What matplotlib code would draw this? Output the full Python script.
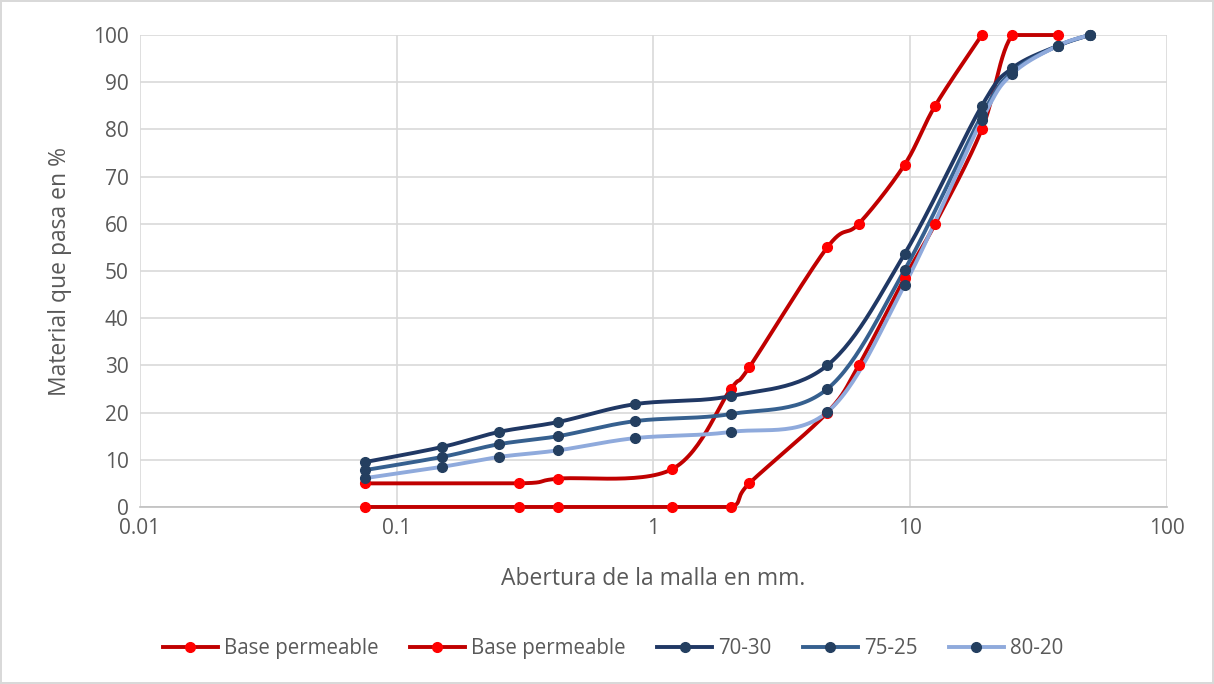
import numpy as np
import matplotlib.pyplot as plt
from matplotlib.lines import Line2D

plt.rcParams['font.family'] = ['Open Sans', 'DejaVu Sans']

# sieve openings (mm)
tamiz_base = [0.075, 0.3, 0.425, 1.18, 2.0, 2.36, 4.75, 6.3, 9.5, 12.5, 19.0]
tamiz_base2 = [0.075, 0.3, 0.425, 1.18, 2.0, 2.36, 4.75, 6.3, 9.5, 12.5, 19.0, 25.0, 37.5]
tamiz_mezcla = [0.075, 0.15, 0.25, 0.425, 0.85, 2.0, 4.75, 9.5, 19.0, 25.0, 37.5, 50.0]

# percent passing
base_sup = [5, 5, 6, 8, 25, 29.6, 55, 60, 72.5, 85, 100]
base_inf = [0, 0, 0, 0, 0, 5, 20, 30, 48.5, 60, 80, 100, 100]
mezcla_70_30 = [9.5, 12.7, 15.9, 18.0, 21.8, 23.5, 30.0, 53.6, 85.0, 93.0, 97.7, 100]
mezcla_75_25 = [7.8, 10.6, 13.3, 15.0, 18.2, 19.7, 25.0, 50.2, 83.0, 92.2, 97.7, 100]
mezcla_80_20 = [6.1, 8.5, 10.6, 12.0, 14.6, 15.9, 20.1, 47.0, 82.0, 91.8, 97.7, 100]

etiquetas = ['Base permeable', 'Base permeable', '70-30', '75-25', '80-20']


def suavizar(x, y, n=30):
    # bezier smoothing like spreadsheet "smoothed line", done in screen-like units
    u = np.log10(x) * 256.7
    v = np.array(y, dtype=float) * 4.72
    pts = np.column_stack([u, v])
    out = [pts[0]]
    for i in range(len(pts) - 1):
        p0 = pts[i - 1] if i > 0 else pts[i]
        p1 = pts[i]
        p2 = pts[i + 1]
        p3 = pts[i + 2] if i + 2 < len(pts) else pts[i + 1]
        c1 = p1 + (p2 - p0) / 6
        c2 = p2 - (p3 - p1) / 6
        # flat stretches stay flat
        if p1[1] == p2[1]:
            c1[1] = c2[1] = p1[1]
        t = np.linspace(0, 1, n)[1:, None]
        seg = ((1 - t) ** 3) * p1 + 3 * ((1 - t) ** 2) * t * c1 + 3 * (1 - t) * t ** 2 * c2 + t ** 3 * p2
        out.extend(seg)
    out = np.array(out)
    return 10 ** (out[:, 0] / 256.7), np.minimum(out[:, 1] / 4.72, 100)


fig = plt.figure(figsize=(12.14, 6.84), dpi=100)
fig.patch.set_edgecolor('#D9D9D9')
fig.patch.set_linewidth(1.5)
ax = fig.add_axes([0.1153, 0.2588, 0.846, 0.69])

series = [
    (tamiz_base, base_sup, '#C00000', '#FF0000'),
    (tamiz_base2, base_inf, '#C00000', '#FF0000'),
    (tamiz_mezcla, mezcla_70_30, '#203864', '#243F60'),
    (tamiz_mezcla, mezcla_75_25, '#36608F', '#243F60'),
    (tamiz_mezcla, mezcla_80_20, '#8FAADC', '#243F60'),
]

handles = []
for (x, y, c_linea, c_marca), nombre in zip(series, etiquetas):
    xs, ys = suavizar(x, y)
    ax.plot(xs, ys, color=c_linea, lw=2.8, solid_capstyle='round', zorder=3, clip_on=False)
    ax.plot(x, y, 'o', color=c_marca, ms=7, zorder=4, clip_on=False)
    handles.append(Line2D([], [], color=c_linea, lw=2.8, marker='o', ms=7,
                          markerfacecolor=c_marca, markeredgecolor=c_marca, label=nombre))

ax.set_xscale('log')
ax.set_xlim(0.01, 100)
ax.set_ylim(0, 100)
ax.set_yticks(range(0, 101, 10))
ax.set_xticks([0.01, 0.1, 1, 10, 100])
ax.set_xticklabels(['0.01', '0.1', '1', '10', '100'])
ax.minorticks_off()
ax.grid(True, color='#D9D9D9', lw=1.2)
ax.set_axisbelow(True)
for s in ['top', 'right', 'left']:
    ax.spines[s].set_visible(False)
ax.spines['bottom'].set_color('#BFBFBF')
ax.spines['bottom'].set_linewidth(1.2)
ax.spines['bottom'].set_zorder(1)
ax.tick_params(length=0, labelsize=15, colors='#595959', pad=8)

ax.set_xlabel('Abertura de la malla en mm.', fontsize=16.5, color='#595959', labelpad=20)
ax.set_ylabel('Material que pasa en %', fontsize=16.5, color='#595959', labelpad=15)

fig.legend(handles=handles, loc='center', bbox_to_anchor=(0.505, 0.0515), ncol=5, frameon=False,
           fontsize=14.8, labelcolor='#595959', handlelength=2.7, columnspacing=1.5, handletextpad=0.3)

fig.savefig('out.png', dpi=100)
